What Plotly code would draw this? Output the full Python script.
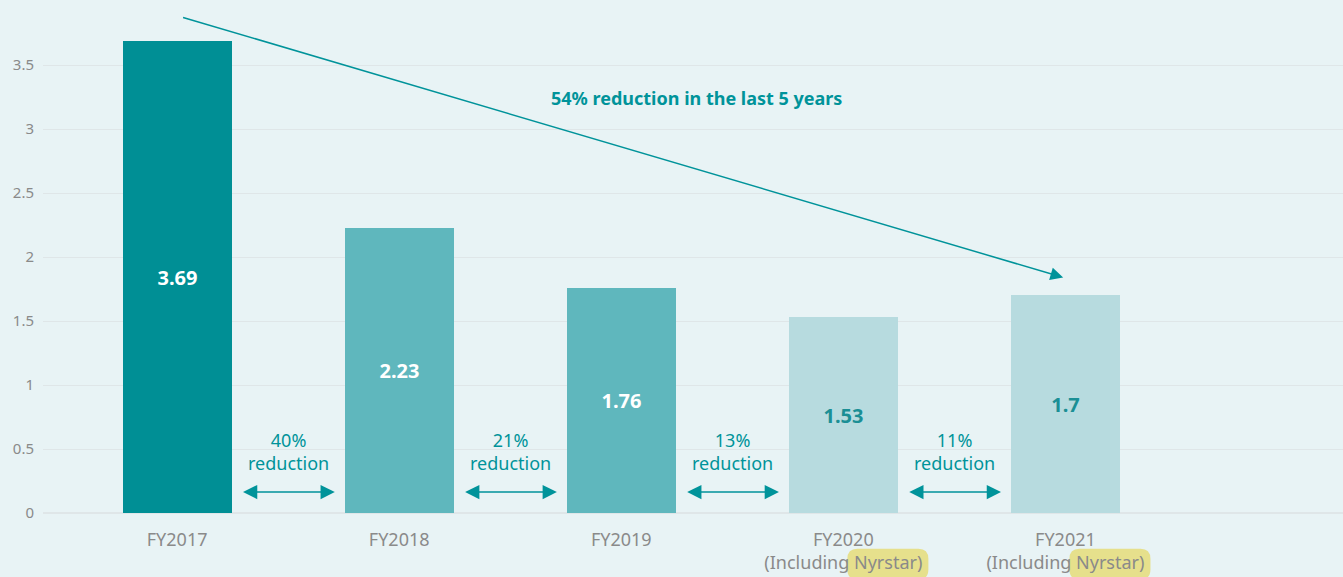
import plotly.graph_objects as go

# Chart data
years = ["FY2017", "FY2018", "FY2019", "FY2020", "FY2021"]
tick_labels = ["FY2017", "FY2018", "FY2019",
               "FY2020<br>(Including Nyrstar)", "FY2021<br>(Including Nyrstar)"]
values = [3.69, 2.23, 1.76, 1.53, 1.7]
bar_colors = ["#008f95", "#5fb7bd", "#5fb7bd", "#b7dbdf", "#b7dbdf"]
label_colors = ["#ffffff", "#ffffff", "#ffffff", "#1b8f95", "#1b8f95"]
step_labels = ["40%<br>reduction", "21%<br>reduction", "13%<br>reduction", "11%<br>reduction"]
total_label = "54% reduction in the last 5 years"
highlighted = [3, 4]  # bars whose tick label has "Nyrstar" highlighted

TEAL = "#00939a"
BG = "#e8f3f5"
FONT = "Noto Sans"

x = list(range(len(years)))

fig = go.Figure()
fig.add_trace(go.Bar(
    x=x,
    y=values,
    width=0.49,
    marker=dict(color=bar_colors, line_width=0),
    text=[str(v) for v in values],
    textposition="inside",
    insidetextanchor="middle",
    textangle=0,
    textfont=dict(family=FONT, size=20, color=label_colors, weight="bold"),
    hoverinfo="skip",
))

annotations = []
shapes = []

# step-by-step reductions between bars
for i, lab in enumerate(step_labels):
    annotations.append(dict(
        x=i + 0.5, y=0.48, xref="x", yref="y", text=lab, showarrow=False,
        font=dict(family=FONT, size=18, color=TEAL),
    ))
    annotations.append(dict(
        x=i + 0.71, y=0.164, ax=i + 0.29, ay=0.164,
        xref="x", yref="y", axref="x", ayref="y",
        text="", showarrow=True, arrowhead=2, arrowside="end+start",
        arrowsize=1.9, arrowwidth=1.5, arrowcolor=TEAL,
    ))

# overall trend arrow
annotations.append(dict(
    x=3.99, y=1.84, ax=0.02, ay=3.875,
    xref="x", yref="y", axref="x", ayref="y",
    text="", showarrow=True, arrowhead=2, arrowsize=1.7,
    arrowwidth=1.5, arrowcolor=TEAL,
))
annotations.append(dict(
    x=2.34, y=3.24, xref="x", yref="y", text=total_label, showarrow=False,
    font=dict(family=FONT, size=18, color=TEAL, weight="bold"),
))

# yellow highlight behind "Nyrstar" in the tick labels
for i in highlighted:
    x0, x1 = i + 0.018, i + 0.383
    y0, y1 = -0.13, -0.07
    rx, ry = 0.045, 0.02
    path = (f"M {x0 + rx},{y1} L {x1 - rx},{y1} Q {x1},{y1} {x1},{y1 - ry} "
            f"L {x1},{y0 + ry} Q {x1},{y0} {x1 - rx},{y0} L {x0 + rx},{y0} "
            f"Q {x0},{y0} {x0},{y0 + ry} L {x0},{y1 - ry} Q {x0},{y1} {x0 + rx},{y1} Z")
    shapes.append(dict(type="path", path=path, xref="x", yref="paper",
                       fillcolor="#e6e08c", line_width=0, layer="below"))

fig.update_layout(
    width=1343,
    height=577,
    margin=dict(l=43, r=0, t=1, b=64),
    paper_bgcolor=BG,
    plot_bgcolor=BG,
    showlegend=False,
    bargap=0,
    font=dict(family=FONT, color="#8a8a8a"),
    annotations=annotations,
    shapes=shapes,
)
fig.update_xaxes(
    range=[-0.604, 5.25],
    tickvals=x,
    ticktext=tick_labels,
    tickfont=dict(family=FONT, size=18, color="#8a8a8a"),
    showgrid=False,
    zeroline=False,
    showline=False,
    ticks="",
    ticklabelstandoff=14,
)
fig.update_yaxes(
    range=[0, 4.0],
    tickvals=[0, 0.5, 1, 1.5, 2, 2.5, 3, 3.5],
    ticktext=["0", "0.5", "1", "1.5", "2", "2.5", "3", "3.5"],
    tickfont=dict(family=FONT, size=15, color="#8a8a8a"),
    gridcolor="#dfe6e8",
    gridwidth=1,
    zeroline=True,
    zerolinecolor="#dfe6e8",
    showline=False,
    ticks="",
    ticklabelstandoff=8,
)

# drop the default page margin so the figure fills the window
fig.write_html("out.html", config={"displayModeBar": False},
               post_script="document.body.style.margin='0';")
